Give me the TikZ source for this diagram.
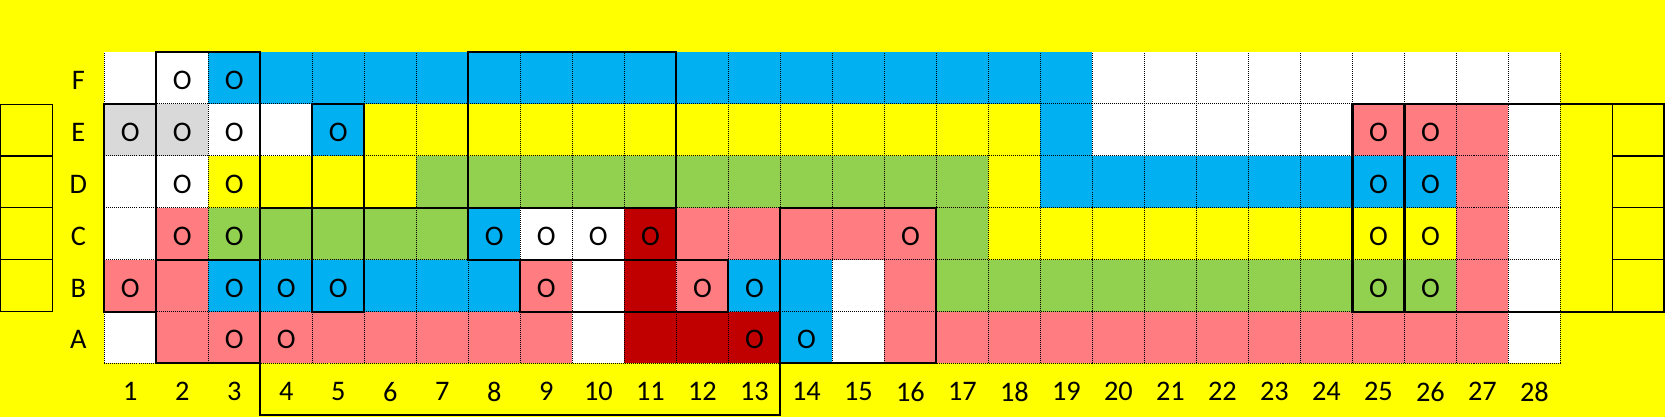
\documentclass[tikz,border=0pt]{standalone}
\usepackage{fontspec}
\setmainfont{Carlito}
\usepackage{xcolor}
\usepackage{tikz}
\usetikzlibrary{positioning}
\definecolor{cblue}{RGB}{0,176,240}
\definecolor{cgreen}{RGB}{146,208,80}
\definecolor{cpink}{RGB}{255,124,128}
\definecolor{cdark}{RGB}{192,0,0}
\definecolor{cgray}{RGB}{217,217,217}
\definecolor{cyellow}{RGB}{255,255,0}

\begin{document}
\begin{tikzpicture}[x=1cm, y=0.997cm,
  font=\fontsize{15.5}{18}\selectfont,
  dotgrid/.style={draw=black, line width=0.55pt, dash pattern=on 0.55pt off 0.55pt},
  heavy/.style={draw=black, line width=1.15pt, line join=miter},
  fine/.style={draw=black, line width=0.6pt},
  occ/.style={inner sep=0pt, yshift=-1.3pt},
  axislbl/.style={inner sep=0pt, yshift=-1.3pt}]

  % Background sheet
  \fill[cyellow] (-2.006,-1.036) rectangle (30.01,7.009);
  \useasboundingbox (-2.006,-1.036) rectangle (30.01,7.009);

  % ── Cell colours, row by row (from/to/colour) ──
  \foreach \y/\spec in {
      5/{1/2/white, 3/19/cblue, 20/28/white},
      4/{1/2/cgray, 3/4/white, 5/5/cblue, 6/18/cyellow, 19/19/cblue,
         20/24/white, 25/27/cpink, 28/28/white},
      3/{1/2/white, 3/6/cyellow, 7/17/cgreen, 18/18/cyellow, 19/26/cblue,
         27/27/cpink, 28/28/white},
      2/{1/1/white, 2/2/cpink, 3/7/cgreen, 8/8/cblue, 9/10/white,
         11/11/cdark, 12/16/cpink, 17/17/cgreen, 18/26/cyellow,
         27/27/cpink, 28/28/white},
      1/{1/2/cpink, 3/8/cblue, 9/9/cpink, 10/10/white, 11/11/cdark,
         12/12/cpink, 13/14/cblue, 15/15/white, 16/16/cpink,
         17/26/cgreen, 27/27/cpink, 28/28/white},
      0/{1/1/white, 2/9/cpink, 10/10/white, 11/13/cdark, 14/14/cblue,
         15/15/white, 16/27/cpink, 28/28/white}}
    \foreach \a/\b/\clr in \spec
      \fill[\clr] (\a-1,\y) rectangle (\b,\y+1);

  % Dotted cell grid
  \draw[dotgrid] (0,0) grid (28,6);

  % ── Occupied seats ──
  \foreach \r/\y/\cs in {
      F/5/{2,3},
      E/4/{1,2,3,5,25,26},
      D/3/{2,3,25,26},
      C/2/{2,3,8,9,10,11,16,25,26},
      B/1/{1,3,4,5,9,12,13,25,26},
      A/0/{3,4,13,14}}
    \foreach \c in \cs
      \node[occ] (o-\r-\c) at (\c-0.5,\y+0.5) {O};

  % Row and column labels
  \foreach \r/\y in {A/0, B/1, C/2, D/3, E/4, F/5}
    \node[axislbl] (row-\r) at (-0.5,\y+0.5) {\r};
  \foreach \c in {1,...,28}
    \node[axislbl] (col-\c) at (\c-0.5,-0.5) {\c};

  % ── Heavy outlines ──
  \draw[heavy] (0,1) rectangle (1,5);
  \draw[heavy] (1,0) rectangle (3,6);
  \draw[heavy] (1,2) -- (3,2);
  \draw[heavy] (4,1) rectangle (5,5);
  \draw[heavy] (3,3) -- (11,3);
  \draw[heavy] (7,2) rectangle (11,6);
  \draw[heavy] (8,1) rectangle (12,2);
  \draw[heavy] (13,0) rectangle (16,3);
  \draw[heavy] (3,0) -- (3,-1) -- (13,-1) -- (13,0);
  \draw[heavy] (24,1) rectangle (30,5);
  \draw[heavy] (25,1) -- (25,5);

  % Side boxes
  \draw[fine] (-2,1) rectangle (-1,5);
  \draw[fine] (29,1) -- (29,5);
  \foreach \y in {2,3,4} {
    \draw[fine] (-2,\y) -- (-1,\y);
    \draw[fine] (29,\y) -- (30,\y);
  }

\end{tikzpicture}
\end{document}
